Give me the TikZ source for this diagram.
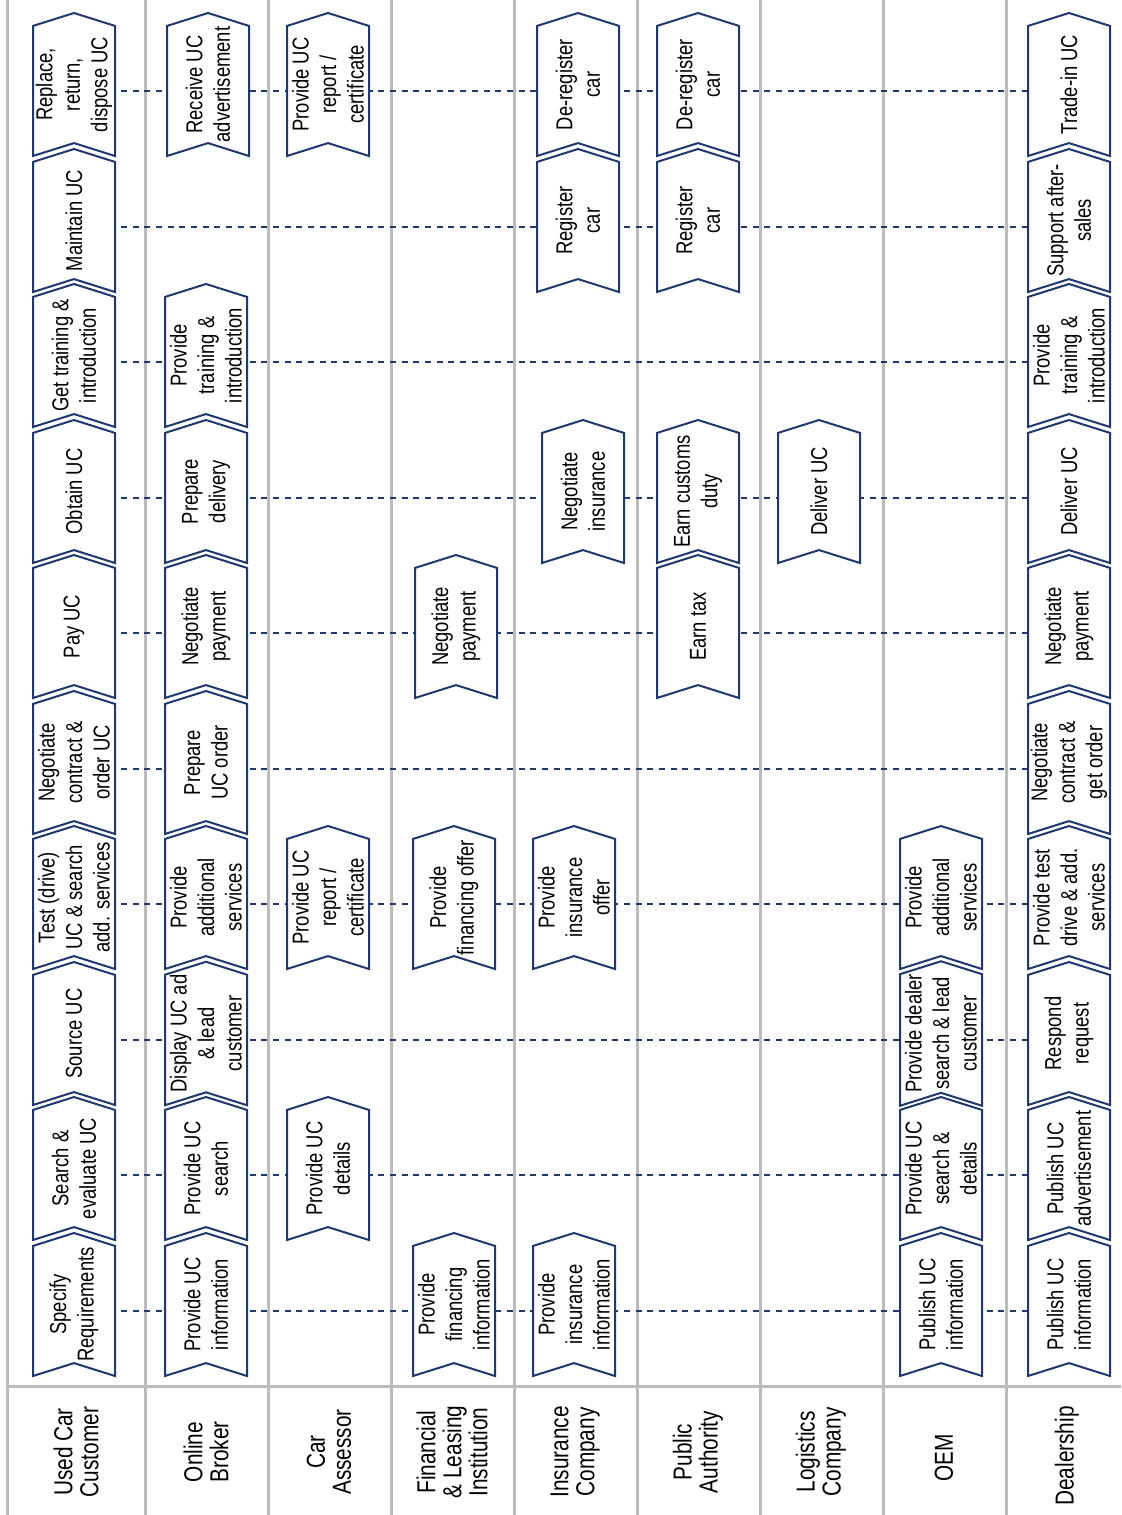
\documentclass[tikz,border=0pt]{standalone}
\usepackage{fontspec}
\setmainfont{Liberation Sans}[FakeStretch=0.8]
\usepackage{tikz}
\usetikzlibrary{shapes.symbols,backgrounds}
\definecolor{navy}{RGB}{31,56,110}
\definecolor{lanegray}{RGB}{188,188,188}

\begin{document}
\begin{tikzpicture}[x=0.5pt, y=-0.5pt,
    chev/.style={shape=signal, signal to=east, signal from=west, signal pointer angle=145,
        rotate=90, draw=navy, line width=1pt, fill=white, minimum width=71.5pt, minimum height=41pt,
        inner sep=0pt, align=center, font=\fontsize{11.5}{13.75}\selectfont},
    lanename/.style={rotate=90, align=center, inner sep=0pt, font=\fontsize{13}{13}\selectfont},
    lane/.style={lanegray, line width=1.5pt},
    rowline/.style={navy, line width=0.8pt, dash pattern=on 3pt off 2.85pt}]
    \useasboundingbox (0,0) rectangle (1121,1515);

    % Used car customer
    \node[chev] (cust1) at (74,1304.5) {Specify\\Requirements};
    \node[chev] (cust2) at (74,1168.5) {Search \&\\evaluate UC};
    \node[chev] (cust3) at (74,1033.5) {Source UC};
    \node[chev] (cust4) at (74,897.5) {Test (drive)\\UC \& search\\add. services};
    \node[chev] (cust5) at (74,762.5) {Negotiate\\contract \&\\order UC};
    \node[chev] (cust6) at (74,626.5) {Pay UC};
    \node[chev] (cust7) at (74,491.5) {Obtain UC};
    \node[chev] (cust8) at (74,355.5) {Get training \&\\introduction};
    \node[chev] (cust9) at (74,220.5) {Maintain UC};
    \node[chev] (cust10) at (74,84.5) {Replace,\\return,\\dispose UC};

    % Online broker
    \node[chev] (broker1) at (206,1304.5) {Provide UC\\information};
    \node[chev] (broker2) at (206,1168.5) {Provide UC\\search};
    \node[chev] (broker3) at (206,1033.5) {Display UC ad\\\& lead\\customer};
    \node[chev] (broker4) at (206,897.5) {Provide\\additional\\services};
    \node[chev] (broker5) at (206,762.5) {Prepare\\UC order};
    \node[chev] (broker6) at (206,626.5) {Negotiate\\payment};
    \node[chev] (broker7) at (206,491.5) {Prepare\\delivery};
    \node[chev] (broker8) at (206,355.5) {Provide\\training \&\\introduction};
    \node[chev] (broker10) at (208,84.5) {Receive UC\\advertisement};

    % Car assessor
    \node[chev] (assessor2) at (328,1168.5) {Provide UC\\details};
    \node[chev] (assessor4) at (328,897.5) {Provide UC\\report /\\certificate};
    \node[chev] (assessor10) at (328,84.5) {Provide UC\\report /\\certificate};

    % Financial & leasing institution
    \node[chev] (finance1) at (454,1304.5) {Provide\\financing\\information};
    \node[chev] (finance4) at (454,897.5) {Provide\\financing offer};
    \node[chev] (finance6) at (456,626.5) {Negotiate\\payment};

    % Insurance company
    \node[chev] (insurer1) at (574,1304.5) {Provide\\insurance\\information};
    \node[chev] (insurer4) at (574,897.5) {Provide\\insurance\\offer};
    \node[chev] (insurer7) at (583,491.5) {Negotiate\\insurance};
    \node[chev] (insurer9) at (578,220.5) {Register\\car};
    \node[chev] (insurer10) at (578,84.5) {De-register\\car};

    % Public authority
    \node[chev] (authority6) at (698,626.5) {Earn tax};
    \node[chev] (authority7) at (698,491.5) {Earn customs\\duty};
    \node[chev] (authority9) at (698,220.5) {Register\\car};
    \node[chev] (authority10) at (698,84.5) {De-register\\car};

    % Logistics company
    \node[chev] (logistics7) at (819,491.5) {Deliver UC};

    % OEM
    \node[chev] (oem1) at (941,1304.5) {Publish UC\\information};
    \node[chev] (oem2) at (941,1168.5) {Provide UC\\search \&\\details};
    \node[chev] (oem3) at (941,1033.5) {Provide dealer\\search \& lead\\customer};
    \node[chev] (oem4) at (941,897.5) {Provide\\additional\\services};

    % Dealership
    \node[chev] (dealer1) at (1069,1304.5) {Publish UC\\information};
    \node[chev] (dealer2) at (1069,1168.5) {Publish UC\\advertisement};
    \node[chev] (dealer3) at (1069,1033.5) {Respond\\request};
    \node[chev] (dealer4) at (1069,897.5) {Provide test\\drive \& add.\\services};
    \node[chev] (dealer5) at (1069,762.5) {Negotiate\\contract \&\\get order};
    \node[chev] (dealer6) at (1069,626.5) {Negotiate\\payment};
    \node[chev] (dealer7) at (1069,491.5) {Deliver UC};
    \node[chev] (dealer8) at (1069,355.5) {Provide\\training \&\\introduction};
    \node[chev] (dealer9) at (1069,220.5) {Support after-\\sales};
    \node[chev] (dealer10) at (1069,84.5) {Trade-in UC};

    % Lane names
    \node[lanename] (lblcust) at (76,1452) {Used Car\\Customer};
    \node[lanename] (lblbroker) at (206,1452) {Online\\Broker};
    \node[lanename] (lblassessor) at (329,1452) {Car\\Assessor};
    \node[lanename] (lblfinance) at (452,1452) {Financial\\\& Leasing\\Institution};
    \node[lanename] (lblinsurer) at (575,1452) {Insurance\\Company};
    \node[lanename] (lblauthority) at (698,1452) {Public\\Authority};
    \node[lanename] (lbllogistics) at (821,1452) {Logistics\\Company};
    \node[lanename] (lbloem) at (944,1458) {OEM};
    \node[lanename] (lbldealer) at (1067,1456) {Dealership};

    \begin{pgfonlayer}{background}
        % Lane borders
        \draw[lane] (7,0) -- (7,1515);
        \draw[lane] (145,0) -- (145,1515);
        \draw[lane] (268,0) -- (268,1515);
        \draw[lane] (391,0) -- (391,1515);
        \draw[lane] (514,0) -- (514,1515);
        \draw[lane] (637,0) -- (637,1515);
        \draw[lane] (760,0) -- (760,1515);
        \draw[lane] (883,0) -- (883,1515);
        \draw[lane] (1006,0) -- (1006,1515);
        \draw[lane] (7,1386) -- (1121,1386);

        % Steps across the lanes
        \draw[rowline] ([yshift=-3.25pt]cust1.center) -- ([yshift=-3.25pt]dealer1.center);
        \draw[rowline] ([yshift=-3.25pt]cust2.center) -- ([yshift=-3.25pt]dealer2.center);
        \draw[rowline] ([yshift=-3.25pt]cust3.center) -- ([yshift=-3.25pt]dealer3.center);
        \draw[rowline] ([yshift=-3.25pt]cust4.center) -- ([yshift=-3.25pt]dealer4.center);
        \draw[rowline] ([yshift=-3.25pt]cust5.center) -- ([yshift=-3.25pt]dealer5.center);
        \draw[rowline] ([yshift=-3.25pt]cust6.center) -- ([yshift=-3.25pt]dealer6.center);
        \draw[rowline] ([yshift=-3.25pt]cust7.center) -- ([yshift=-3.25pt]dealer7.center);
        \draw[rowline] ([yshift=-3.25pt]cust8.center) -- ([yshift=-3.25pt]dealer8.center);
        \draw[rowline] ([yshift=-3.25pt]cust9.center) -- ([yshift=-3.25pt]dealer9.center);
        \draw[rowline] ([yshift=-3.25pt]cust10.center) -- ([yshift=-3.25pt]dealer10.center);
    \end{pgfonlayer}
\end{tikzpicture}
\end{document}
